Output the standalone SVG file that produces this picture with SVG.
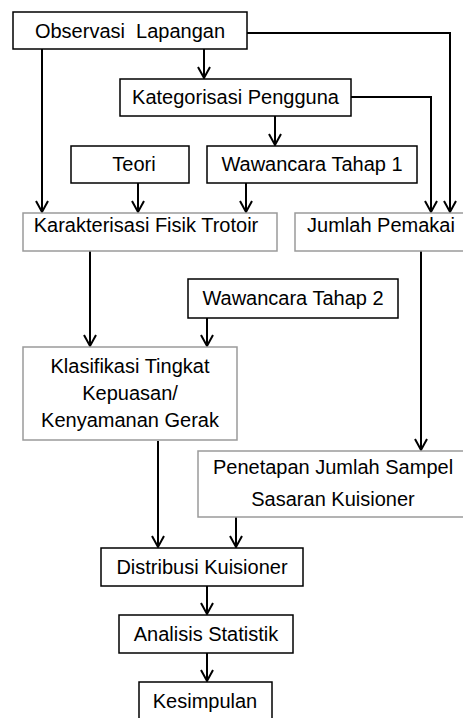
<svg xmlns="http://www.w3.org/2000/svg" width="463" height="718" viewBox="0 0 463 718">
<defs>
<style>
.b{fill:#fff;stroke:#000;stroke-width:1.5}
.g{fill:#fff;stroke:#9a9a9a;stroke-width:1.5}
text{font-family:"Liberation Sans",Arial,sans-serif;font-size:20px;fill:#000;text-anchor:middle}
.c path{fill:none;stroke:#000;stroke-width:2}
</style>
<marker id="ah" markerUnits="userSpaceOnUse" markerWidth="16" markerHeight="16" viewBox="-8 -13 16 16" refX="0" refY="0" orient="auto-start-reverse" overflow="visible">
<path d="M-11,-6 L0,0 L-11,6" fill="none" stroke="#000" stroke-width="2"/>
</marker>
</defs>
<rect width="463" height="718" fill="#fff"/>
<g class="c" id="connectors">
<path d="M42,49 V212" marker-end="url(#ah)"/>
<path d="M204,49 V78" marker-end="url(#ah)"/>
<path d="M247,33 H450 V212" marker-end="url(#ah)"/>
<path d="M351,97 H431 V212" marker-end="url(#ah)"/>
<path d="M275,116 V145" marker-end="url(#ah)"/>
<path d="M138,183 V212" marker-end="url(#ah)"/>
<path d="M246,183 V212" marker-end="url(#ah)"/>
<path d="M90,251 V346" marker-end="url(#ah)"/>
<path d="M207,318 V346" marker-end="url(#ah)"/>
<path d="M421,251 V450" marker-end="url(#ah)"/>
<path d="M158,441 V547" marker-end="url(#ah)"/>
<path d="M236,517 V547" marker-end="url(#ah)"/>
<path d="M207,586 V614" marker-end="url(#ah)"/>
<path d="M207,653 V681" marker-end="url(#ah)"/>
</g>
<g id="observasi"><rect class="b" x="13" y="12" width="234" height="37"/><text x="130" y="38" xml:space="preserve">Observasi  Lapangan</text></g>
<g id="kategorisasi"><rect class="b" x="120" y="79" width="231" height="37"/><text x="235.5" y="104">Kategorisasi Pengguna</text></g>
<g id="teori"><rect class="b" x="71" y="146" width="118" height="37"/><text x="134" y="171">Teori</text></g>
<g id="wawancara1"><rect class="b" x="207" y="146" width="210" height="37"/><text x="312" y="171">Wawancara Tahap 1</text></g>
<g id="karakterisasi"><rect class="g" x="23" y="213" width="254" height="38"/><text x="146" y="232">Karakterisasi Fisik Trotoir</text></g>
<g id="jumlah"><rect class="g" x="295" y="213" width="172" height="38"/><text x="381" y="232">Jumlah Pemakai</text></g>
<g id="wawancara2"><rect class="b" x="188" y="279" width="210" height="39"/><text x="293" y="305">Wawancara Tahap 2</text></g>
<g id="klasifikasi"><rect class="g" x="23" y="347" width="214" height="93"/><text x="130" y="373">Klasifikasi Tingkat</text><text x="130" y="400">Kepuasan/</text><text x="130" y="427">Kenyamanan Gerak</text></g>
<g id="penetapan"><rect class="g" x="198" y="451" width="269" height="66"/><text x="333" y="474">Penetapan Jumlah Sampel</text><text x="333" y="506">Sasaran Kuisioner</text></g>
<g id="distribusi"><rect class="b" x="101" y="548" width="202" height="38"/><text x="202" y="574">Distribusi Kuisioner</text></g>
<g id="analisis"><rect class="b" x="119" y="615" width="174" height="38"/><text x="206" y="641">Analisis Statistik</text></g>
<g id="kesimpulan"><rect class="b" x="139" y="682" width="133" height="40"/><text x="205" y="708">Kesimpulan</text></g>
</svg>
